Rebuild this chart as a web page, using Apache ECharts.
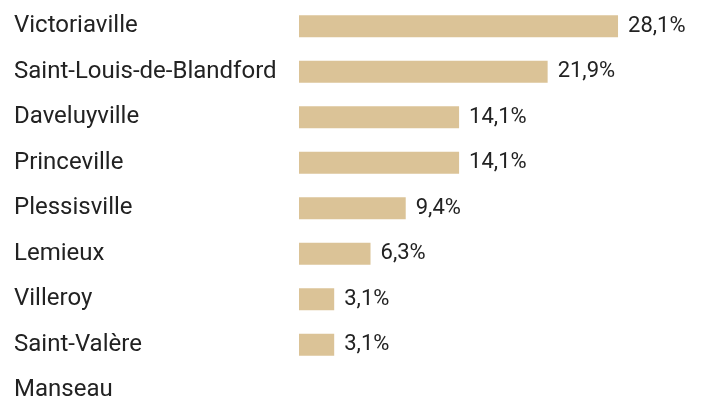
<!DOCTYPE html>
<html>
<head>
<meta charset="utf-8">
<script src="https://cdn.jsdelivr.net/npm/echarts@6/dist/echarts.min.js"></script>
<style>
  html, body { margin: 0; padding: 0; background: #ffffff; overflow: hidden; }
  /* the last row runs slightly past the visible area */
  #chart { width: 706px; height: 414px; }
</style>
</head>
<body>
<div id="chart"></div>
<script>
// Répartition par municipalité (%)
const municipalites = [
  'Victoriaville',
  'Saint-Louis-de-Blandford',
  'Daveluyville',
  'Princeville',
  'Plessisville',
  'Lemieux',
  'Villeroy',
  'Saint-Valère',
  'Manseau'
];
const pourcentages = [28.1, 21.9, 14.1, 14.1, 9.4, 6.3, 3.1, 3.1, 0];

const formatPct = v => v > 0 ? v.toFixed(1).replace('.', ',') + '%' : '';

const chart = echarts.init(document.getElementById('chart'), null, { renderer: 'canvas' });
chart.setOption({
  animation: false,
  backgroundColor: '#ffffff',
  grid: { left: 299, top: 3.5, width: 340.6, height: 409.5, containLabel: false },
  xAxis: {
    type: 'value',
    min: 0,
    max: 30,
    show: false
  },
  yAxis: {
    type: 'category',
    data: municipalites,
    inverse: true,
    axisLine: { show: false },
    axisTick: { show: false },
    splitLine: { show: false },
    axisLabel: {
      align: 'left',
      margin: 285,
      color: '#222222',
      fontFamily: 'Roboto',
      fontSize: 24,
      padding: [0, 0, 10, 0]
    }
  },
  series: [{
    type: 'bar',
    data: pourcentages,
    barWidth: 22,
    itemStyle: { color: '#dbc397' },
    label: {
      show: true,
      position: 'right',
      distance: 10,
      color: '#222222',
      fontFamily: 'Roboto',
      fontSize: 22,
      formatter: p => formatPct(p.value)
    }
  }]
});
</script>
</body>
</html>
